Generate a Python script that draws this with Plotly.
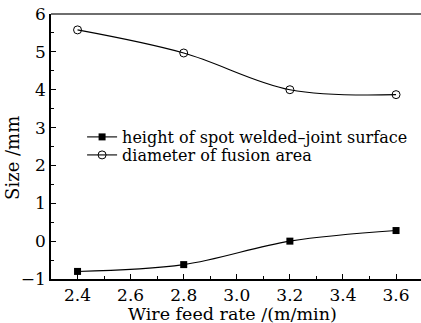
import plotly.graph_objects as go

wire_feed = [2.4, 2.8, 3.2, 3.6]
height_surface = [-0.80, -0.62, 0.00, 0.28]
diameter_fusion = [5.58, 4.97, 4.00, 3.87]

font_family = "DejaVu Serif, Liberation Serif, serif"

fig = go.Figure()
fig.add_trace(go.Scatter(
    x=wire_feed, y=height_surface, mode="lines+markers",
    name="height of spot welded\u2013joint surface", legend="legend",
    line=dict(color="black", width=1.1, shape="spline", smoothing=1.0),
    marker=dict(symbol="square", size=7, color="black"),
))
fig.add_trace(go.Scatter(
    x=wire_feed, y=diameter_fusion, mode="lines+markers",
    name="diameter of fusion area", legend="legend2",
    line=dict(color="black", width=1.1, shape="spline", smoothing=1.0),
    marker=dict(symbol="circle-open", size=8, color="black", line=dict(width=1)),
))

legend_style = dict(xanchor="left", yanchor="top", bgcolor="rgba(0,0,0,0)",
                    font=dict(size=16, family=font_family), itemwidth=30)

fig.update_layout(
    width=421, height=323,
    margin=dict(l=51, r=0, t=14, b=44),
    paper_bgcolor="white", plot_bgcolor="white",
    font=dict(family=font_family, color="black", size=16),
    showlegend=True,
    legend=dict(x=0.084, y=0.60, **legend_style),
    legend2=dict(x=0.084, y=0.532, **legend_style),
    shapes=[dict(type="line", xref="paper", yref="paper", x0=0, x1=1, y0=1, y1=1,
                 line=dict(color="#6e6e6e", width=2))],
    annotations=[
        dict(text="Wire feed rate /(m/min)", xref="paper", yref="paper",
             x=0.49, y=0, yshift=-35, xanchor="center", yanchor="middle",
             showarrow=False, font=dict(size=17.5)),
        dict(text="Size /mm", xref="paper", yref="paper",
             x=0, xshift=-38, y=0.457, xanchor="center", yanchor="middle",
             textangle=-90, showarrow=False, font=dict(size=18)),
    ],
)
fig.update_xaxes(
    range=[2.3, 3.694], showgrid=False, zeroline=False,
    showline=True, linecolor="black", linewidth=1.5, mirror=False,
    ticks="inside", ticklen=5, tickcolor="black",
    tickvals=[2.4, 2.6, 2.8, 3.0, 3.2, 3.4, 3.6],
    ticktext=["2.4", "2.6", "2.8", "3.0", "3.2", "3.4", "3.6"],
    tickfont=dict(size=17),
    minor=dict(ticks="inside", ticklen=3, dtick=0.1, tick0=2.3, tickcolor="black", showgrid=False),
)
fig.update_yaxes(
    range=[-1, 6], showgrid=False, zeroline=False,
    showline=True, linecolor="black", linewidth=1.5, mirror=False,
    ticks="inside", ticklen=5, tickcolor="black",
    dtick=1, tickfont=dict(size=17),
    minor=dict(ticks="inside", ticklen=3, dtick=0.5, tickcolor="black", showgrid=False),
)

fig.write_html("out.html", config={"displayModeBar": False},
               post_script="document.body.style.margin='0px';")
